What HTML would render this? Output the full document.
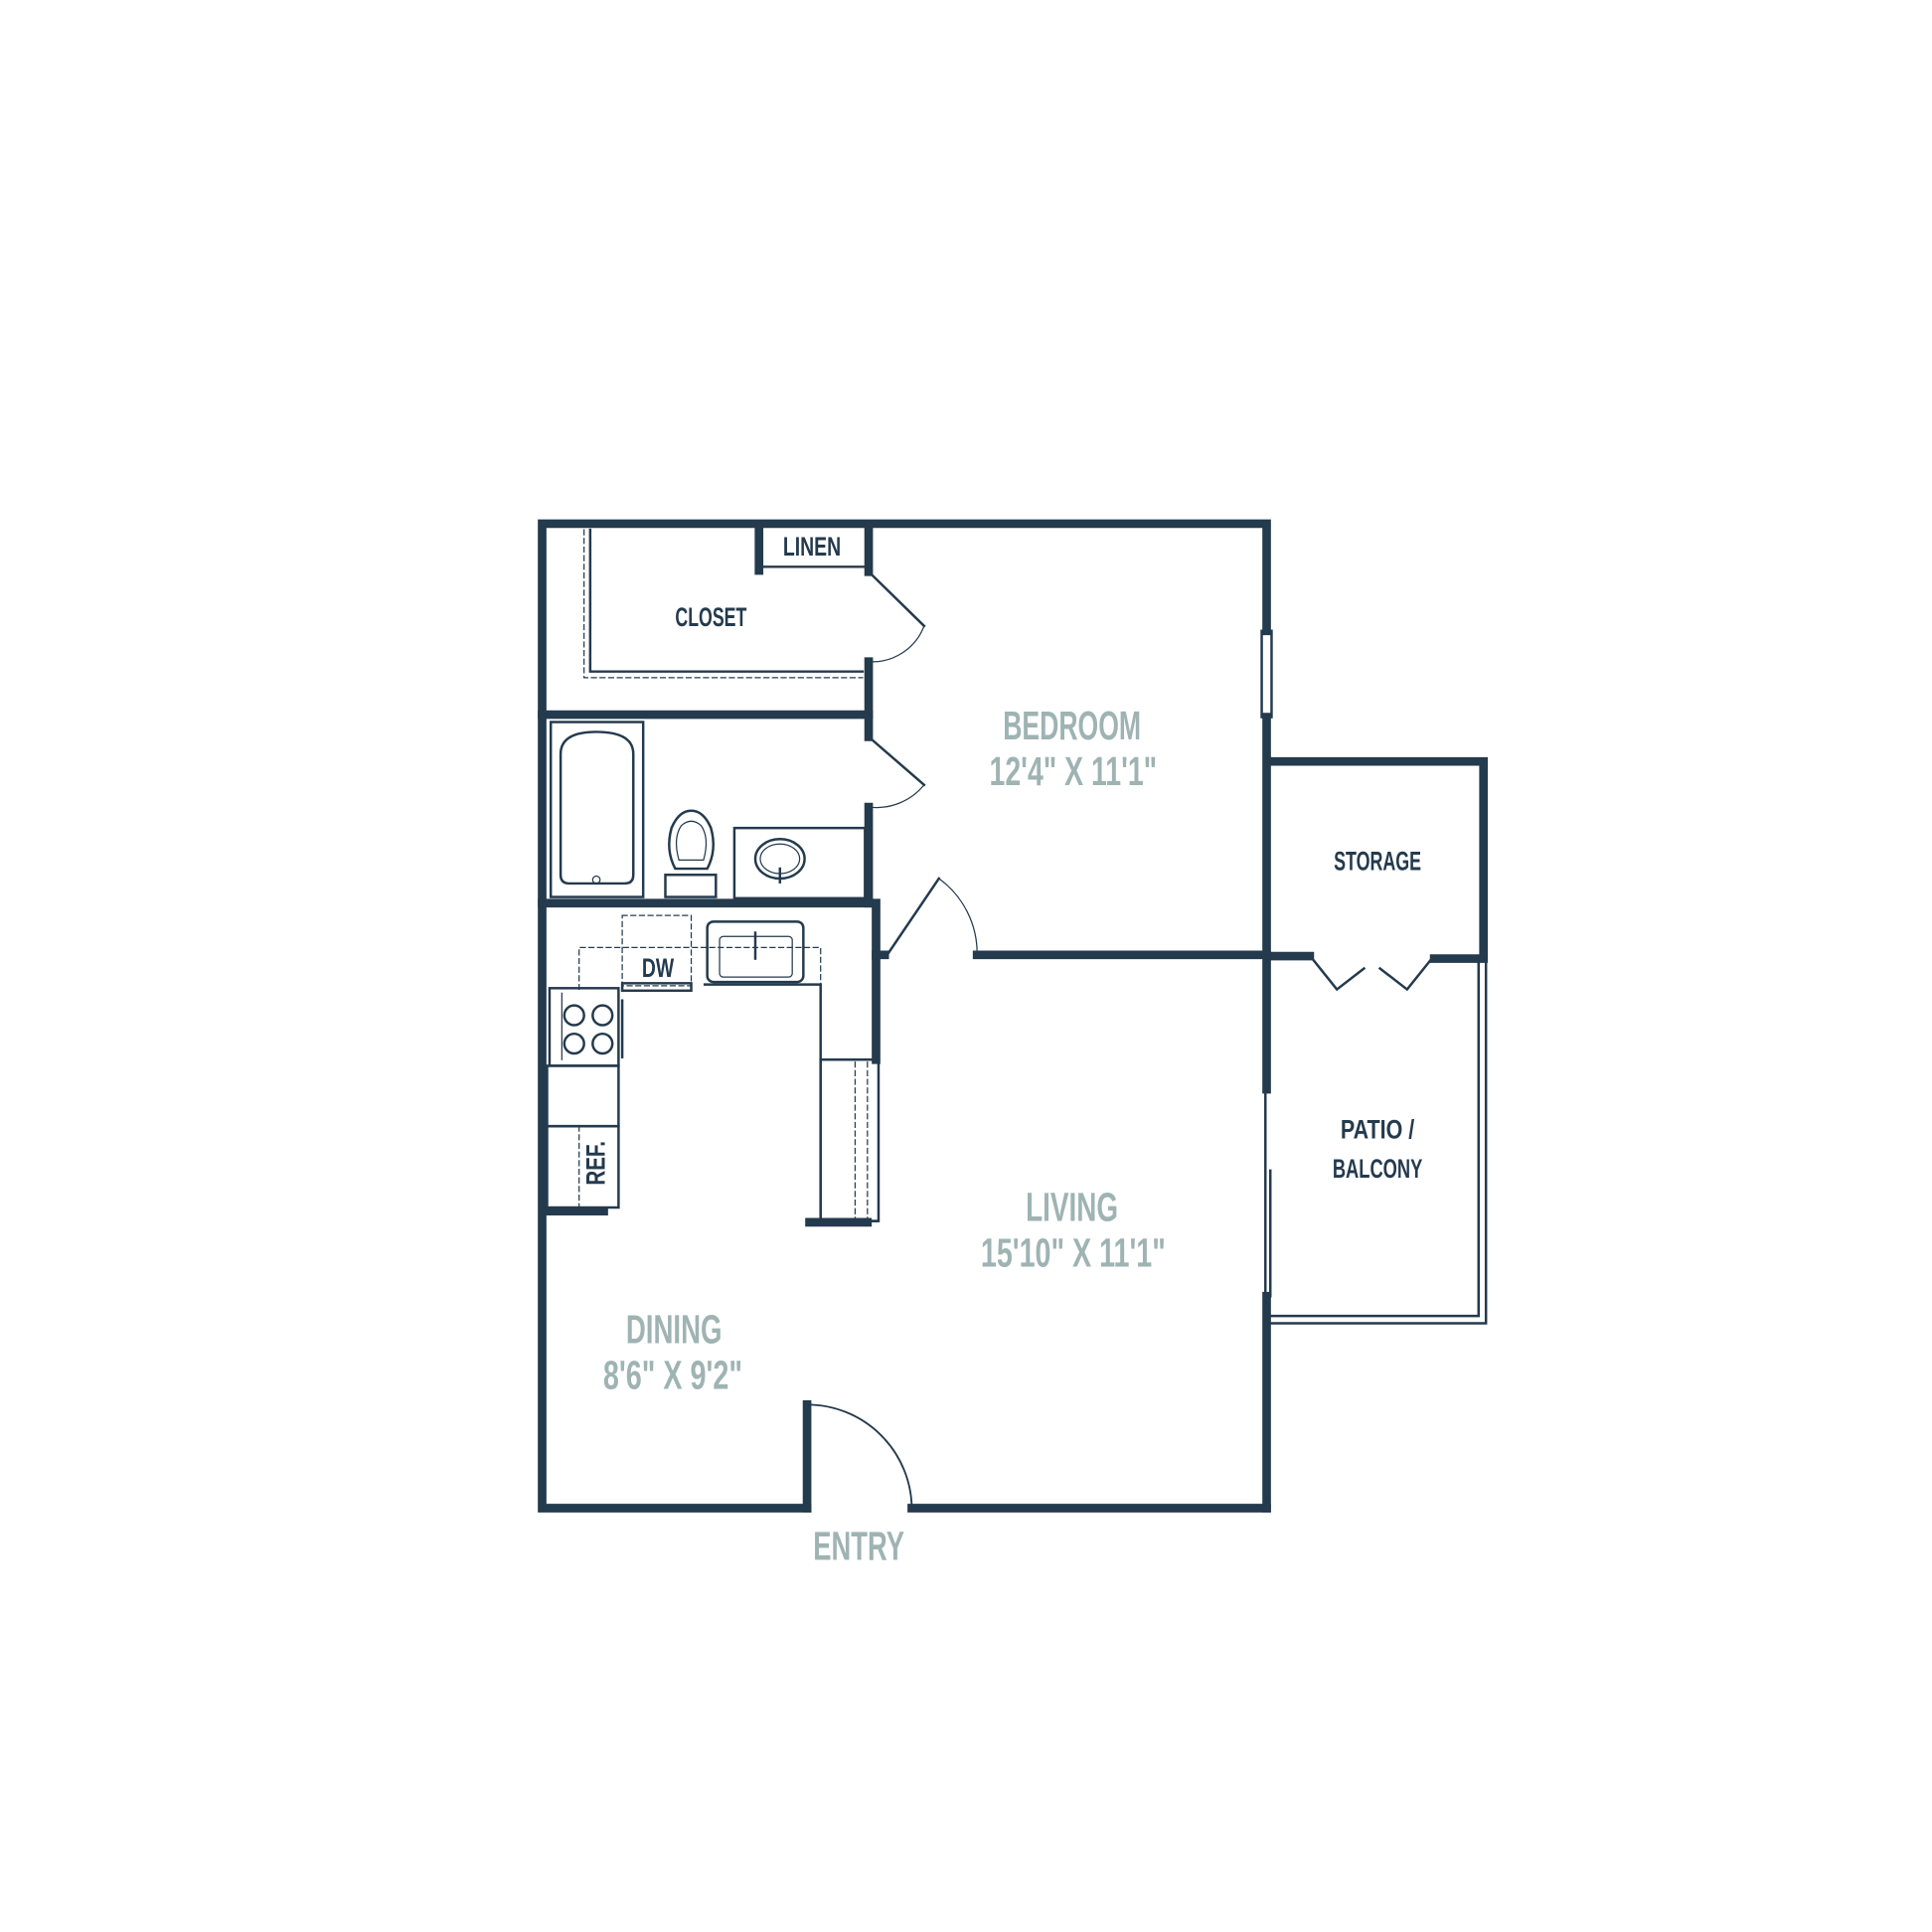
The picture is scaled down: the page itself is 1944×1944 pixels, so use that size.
<!DOCTYPE html>
<html><head><meta charset="utf-8"><style>
html,body{margin:0;padding:0;background:#fff}
svg{display:block}
.t{font-family:"Liberation Sans Narrow","Liberation Sans",sans-serif;font-weight:bold;text-anchor:middle}
</style></head><body>
<svg width="1944" height="1944" viewBox="0 0 1568 1568" xmlns="http://www.w3.org/2000/svg">
<g stroke="#243a4d" fill="none" stroke-linecap="square">
<g stroke-width="7">
<polyline points="655,1224 440,1224 440,425 1028,425 1028,512"/>
<line x1="740" y1="1224" x2="1028" y2="1224"/>
<line x1="1028" y1="1224" x2="1028" y2="1052"/>
<line x1="1028" y1="582" x2="1028" y2="884"/>
<line x1="655" y1="1140" x2="655" y2="1224"/>
<polyline points="1030,618 1204,618 1204,778 1164,778"/>
<line x1="1030" y1="776" x2="1063" y2="776"/>
<line x1="440" y1="580" x2="705" y2="580"/>
<line x1="440" y1="733" x2="705" y2="733"/>
<line x1="705" y1="428" x2="705" y2="464"/>
<line x1="705" y1="537" x2="705" y2="598"/>
<line x1="705" y1="655" x2="705" y2="733"/>
<line x1="616" y1="428" x2="616" y2="463"/>
<line x1="793" y1="775" x2="1028" y2="775"/>
<line x1="711" y1="733" x2="711" y2="860"/>
<line x1="711" y1="775" x2="718" y2="775"/>
<line x1="657" y1="992" x2="704" y2="992"/>
<line x1="443" y1="983" x2="490" y2="983"/>
</g>
<g stroke-width="2">
<rect x="1024" y="512" width="8" height="70"/>
<line x1="1027" y1="884" x2="1027" y2="1052"/>
<line x1="1031" y1="950" x2="1031" y2="1052"/>
<polyline points="1200,780 1200,1068 1031,1068"/>
<polyline points="1206,780 1206,1074 1031,1074"/>
<polyline points="1065,778 1085,803 1107,786"/>
<polyline points="1162,778 1142,803 1120,786"/>
<line x1="616" y1="460" x2="705" y2="460"/>
<polyline points="479,430 479,545 700,545"/>
</g>
<polyline stroke-width="1" stroke-dasharray="4,3" points="474,430 474,550 700,550"/>
<g stroke-width="2">
<line x1="705" y1="464" x2="750" y2="508"/>
<path d="M750,508 A45,45 0 0 1 705,537" stroke-width="1"/>
<line x1="705" y1="598" x2="750" y2="637"/>
<path d="M750,637 A50,50 0 0 1 705,655" stroke-width="1"/>
<line x1="720" y1="775" x2="762" y2="713"/>
<path d="M762,713 A75,75 0 0 1 793,775" stroke-width="1"/>
<path d="M655,1140 A85,85 0 0 1 740,1224" stroke-width="1.5"/>
</g>
<g stroke-width="2">
<rect x="447" y="586" width="75" height="142"/>
<path d="M455,612 Q455,594 484,594 Q514,594 514,612 L514,710 Q514,717 507,717 L462,717 Q455,717 455,710 Z"/>
<circle cx="484" cy="714" r="3" stroke-width="1"/>
<rect x="540" y="710" width="41" height="18"/>
<path d="M548,705 Q540,690 545,672 Q551,658 561,658 Q571,658 577,672 Q582,690 574,705 Z"/>
<path d="M551,698 Q546,680 553,670 Q561,663 569,670 Q576,680 571,698 Z" stroke-width="1"/>
<rect x="596" y="672" width="106" height="57"/>
<ellipse cx="633" cy="697" rx="20" ry="16"/>
<ellipse cx="633" cy="697" rx="16" ry="12" stroke-width="1"/>
<line x1="633" y1="705" x2="633" y2="716"/>
<rect x="574" y="748" width="78" height="49" rx="5"/>
<rect x="584" y="760" width="59" height="33" rx="3" stroke-width="1"/>
<line x1="613" y1="757" x2="613" y2="778"/>
<polyline points="572,799 666,799 666,991 711,991"/>
<rect x="666" y="860" width="47" height="131"/>
<rect x="446" y="802" width="56" height="63"/>
<line x1="456" y1="806" x2="456" y2="860" stroke-width="1"/>
<line x1="505" y1="812" x2="505" y2="858" stroke-width="2"/>
<circle cx="466" cy="824" r="8"/><circle cx="489" cy="824" r="8"/>
<circle cx="466" cy="847" r="8"/><circle cx="489" cy="847" r="8"/>
<rect x="444" y="865" width="58" height="49"/>
<rect x="444" y="914" width="58" height="66"/>
<rect x="505" y="798" width="56" height="6"/>
</g>
<g stroke-width="1" stroke-dasharray="4,3">
<rect x="505" y="743" width="56" height="57"/>
<polyline points="470,803 470,769 666,769 666,800"/>
<line x1="470" y1="914" x2="470" y2="980"/>
<line x1="694" y1="862" x2="694" y2="990"/>
<line x1="704" y1="862" x2="704" y2="990"/>
</g>
</g>
<g class="t" fill="#243a4d" font-size="22">
<text x="659" y="451" textLength="47" lengthAdjust="spacingAndGlyphs">LINEN</text>
<text x="577" y="508" textLength="58" lengthAdjust="spacingAndGlyphs">CLOSET</text>
<text x="1118" y="706" textLength="71" lengthAdjust="spacingAndGlyphs">STORAGE</text>
<text x="1118" y="924" textLength="60" lengthAdjust="spacingAndGlyphs">PATIO /</text>
<text x="1118" y="956" textLength="73" lengthAdjust="spacingAndGlyphs">BALCONY</text>
<text x="534" y="793" textLength="26" lengthAdjust="spacingAndGlyphs">DW</text>
<text x="0" y="0" transform="translate(491,944) rotate(-90)" textLength="36" lengthAdjust="spacingAndGlyphs">REF.</text>
</g>
<g class="t" fill="#9fb3b3" font-size="33">
<text x="870" y="600" textLength="112" lengthAdjust="spacingAndGlyphs">BEDROOM</text>
<text x="871" y="637" textLength="136" lengthAdjust="spacingAndGlyphs">12'4" X 11'1"</text>
<text x="870" y="991" textLength="75" lengthAdjust="spacingAndGlyphs">LIVING</text>
<text x="871" y="1028" textLength="150" lengthAdjust="spacingAndGlyphs">15'10" X 11'1"</text>
<text x="547" y="1090" textLength="78" lengthAdjust="spacingAndGlyphs">DINING</text>
<text x="546" y="1127" textLength="113" lengthAdjust="spacingAndGlyphs">8'6" X 9'2"</text>
<text x="697" y="1266" textLength="74" lengthAdjust="spacingAndGlyphs">ENTRY</text>
</g>
</svg>
</body></html>
